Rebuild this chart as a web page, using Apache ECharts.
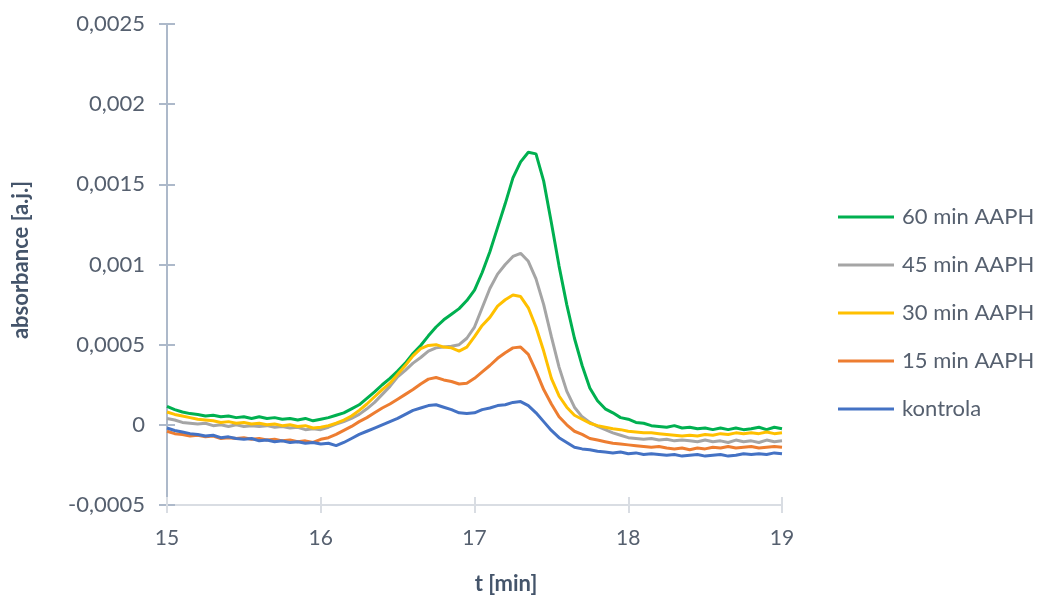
<!DOCTYPE html>
<html>
<head>
<meta charset="utf-8">
<script src="https://cdn.jsdelivr.net/npm/echarts@6/dist/echarts.min.js"></script>
<style>
html,body{margin:0;padding:0;background:#fff;}
#chart{width:1040px;height:597px;}
</style>
</head>
<body>
<div id="chart"></div>
<script>
// time axis [min]
const times = [
15.00,15.05,15.10,15.15,15.20,15.25,15.30,15.35,15.40,15.45,
15.50,15.55,15.60,15.65,15.70,15.75,15.80,15.85,15.90,15.95,
16.00,16.05,16.10,16.15,16.20,16.25,16.30,16.35,16.40,16.45,
16.50,16.55,16.60,16.65,16.70,16.75,16.80,16.85,16.90,16.95,
17.00,17.05,17.10,17.15,17.20,17.25,17.30,17.35,17.40,17.45,
17.50,17.55,17.60,17.65,17.70,17.75,17.80,17.85,17.90,17.95,
18.00,18.05,18.10,18.15,18.20,18.25,18.30,18.35,18.40,18.45,
18.50,18.55,18.60,18.65,18.70,18.75,18.80,18.85,18.90,18.95,
19.00];

const seriesNames = ['60 min AAPH','45 min AAPH','30 min AAPH','15 min AAPH','kontrola'];

const aaph60 = [
1.15e-4,0.95e-4,0.8e-4,0.7e-4,0.65e-4,0.55e-4,0.6e-4,0.5e-4,0.55e-4,0.45e-4,
0.5e-4,0.4e-4,0.5e-4,0.4e-4,0.45e-4,0.35e-4,0.4e-4,0.3e-4,0.4e-4,0.25e-4,
0.35e-4,0.45e-4,0.6e-4,0.75e-4,1.0e-4,1.25e-4,1.65e-4,2.05e-4,2.5e-4,2.9e-4,
3.35e-4,3.85e-4,4.45e-4,4.95e-4,5.55e-4,6.1e-4,6.55e-4,6.9e-4,7.25e-4,7.75e-4,
8.4e-4,9.5e-4,10.8e-4,12.3e-4,13.8e-4,15.4e-4,16.4e-4,17.0e-4,16.9e-4,15.2e-4,
12.6e-4,9.9e-4,7.5e-4,5.4e-4,3.7e-4,2.3e-4,1.5e-4,1.0e-4,0.75e-4,0.45e-4,
0.35e-4,0.15e-4,0.1e-4,-0.05e-4,-0.1e-4,-0.15e-4,-0.05e-4,-0.2e-4,-0.15e-4,-0.25e-4,
-0.2e-4,-0.3e-4,-0.2e-4,-0.3e-4,-0.2e-4,-0.3e-4,-0.25e-4,-0.15e-4,-0.3e-4,-0.15e-4,
-0.25e-4];

const aaph45 = [
0.4e-4,0.3e-4,0.15e-4,0.1e-4,0.05e-4,0.1e-4,-0.05e-4,0.0,-0.1e-4,0.0,
-0.1e-4,-0.05e-4,-0.1e-4,-0.05e-4,-0.15e-4,-0.1e-4,-0.2e-4,-0.15e-4,-0.3e-4,-0.25e-4,
-0.3e-4,-0.15e-4,0.05e-4,0.2e-4,0.4e-4,0.65e-4,1.0e-4,1.4e-4,1.9e-4,2.4e-4,
3.0e-4,3.4e-4,3.85e-4,4.2e-4,4.6e-4,4.8e-4,4.85e-4,4.9e-4,5.0e-4,5.4e-4,
6.1e-4,7.3e-4,8.5e-4,9.4e-4,10.0e-4,10.5e-4,10.7e-4,10.2e-4,9.1e-4,7.5e-4,
5.5e-4,3.6e-4,2.1e-4,1.1e-4,0.5e-4,0.15e-4,-0.1e-4,-0.3e-4,-0.5e-4,-0.65e-4,
-0.8e-4,-0.85e-4,-0.9e-4,-0.85e-4,-0.95e-4,-0.9e-4,-1.0e-4,-0.95e-4,-1.0e-4,-1.05e-4,
-0.95e-4,-1.05e-4,-1.0e-4,-1.1e-4,-0.95e-4,-1.05e-4,-1.0e-4,-1.1e-4,-0.95e-4,-1.05e-4,
-1.0e-4];

const aaph30 = [
0.8e-4,0.65e-4,0.55e-4,0.45e-4,0.35e-4,0.3e-4,0.25e-4,0.15e-4,0.2e-4,0.1e-4,
0.15e-4,0.05e-4,0.1e-4,0.0,0.05e-4,-0.05e-4,0.0,-0.1e-4,-0.05e-4,-0.2e-4,
-0.15e-4,-0.05e-4,0.1e-4,0.3e-4,0.55e-4,0.9e-4,1.3e-4,1.75e-4,2.2e-4,2.6e-4,
3.15e-4,3.7e-4,4.3e-4,4.75e-4,4.95e-4,5.0e-4,4.85e-4,4.8e-4,4.6e-4,4.85e-4,
5.5e-4,6.2e-4,6.7e-4,7.4e-4,7.8e-4,8.1e-4,8.0e-4,7.3e-4,6.1e-4,4.6e-4,
2.9e-4,1.8e-4,1.1e-4,0.6e-4,0.35e-4,0.1e-4,-0.05e-4,-0.15e-4,-0.25e-4,-0.3e-4,
-0.4e-4,-0.45e-4,-0.5e-4,-0.5e-4,-0.55e-4,-0.6e-4,-0.65e-4,-0.7e-4,-0.65e-4,-0.7e-4,
-0.6e-4,-0.65e-4,-0.55e-4,-0.6e-4,-0.5e-4,-0.55e-4,-0.5e-4,-0.55e-4,-0.45e-4,-0.55e-4,
-0.5e-4];

const aaph15 = [
-0.4e-4,-0.55e-4,-0.6e-4,-0.7e-4,-0.65e-4,-0.75e-4,-0.7e-4,-0.85e-4,-0.8e-4,-0.85e-4,
-0.8e-4,-0.9e-4,-0.85e-4,-0.95e-4,-0.9e-4,-1.0e-4,-0.95e-4,-1.05e-4,-1.0e-4,-1.1e-4,
-0.9e-4,-0.8e-4,-0.6e-4,-0.35e-4,-0.1e-4,0.2e-4,0.45e-4,0.75e-4,1.05e-4,1.3e-4,
1.6e-4,1.9e-4,2.2e-4,2.55e-4,2.85e-4,2.95e-4,2.8e-4,2.7e-4,2.55e-4,2.6e-4,
2.9e-4,3.3e-4,3.7e-4,4.15e-4,4.5e-4,4.8e-4,4.85e-4,4.4e-4,3.35e-4,2.2e-4,
1.3e-4,0.5e-4,0.0,-0.4e-4,-0.6e-4,-0.85e-4,-0.95e-4,-1.05e-4,-1.15e-4,-1.2e-4,
-1.25e-4,-1.3e-4,-1.35e-4,-1.4e-4,-1.35e-4,-1.45e-4,-1.5e-4,-1.45e-4,-1.55e-4,-1.45e-4,
-1.5e-4,-1.4e-4,-1.45e-4,-1.35e-4,-1.45e-4,-1.4e-4,-1.35e-4,-1.45e-4,-1.4e-4,-1.35e-4,
-1.4e-4];

const kontrola = [
-0.2e-4,-0.35e-4,-0.45e-4,-0.55e-4,-0.6e-4,-0.7e-4,-0.65e-4,-0.8e-4,-0.75e-4,-0.85e-4,
-0.9e-4,-0.85e-4,-1.0e-4,-0.95e-4,-1.05e-4,-1.0e-4,-1.1e-4,-1.05e-4,-1.15e-4,-1.1e-4,
-1.2e-4,-1.15e-4,-1.3e-4,-1.1e-4,-0.85e-4,-0.6e-4,-0.4e-4,-0.2e-4,0.0,0.2e-4,
0.4e-4,0.65e-4,0.9e-4,1.05e-4,1.2e-4,1.25e-4,1.1e-4,0.95e-4,0.75e-4,0.7e-4,
0.75e-4,0.95e-4,1.05e-4,1.2e-4,1.25e-4,1.4e-4,1.45e-4,1.2e-4,0.75e-4,0.2e-4,
-0.35e-4,-0.8e-4,-1.1e-4,-1.4e-4,-1.5e-4,-1.55e-4,-1.65e-4,-1.7e-4,-1.75e-4,-1.7e-4,
-1.8e-4,-1.75e-4,-1.85e-4,-1.8e-4,-1.85e-4,-1.9e-4,-1.85e-4,-1.95e-4,-1.9e-4,-1.85e-4,
-1.95e-4,-1.9e-4,-1.85e-4,-1.95e-4,-1.9e-4,-1.8e-4,-1.85e-4,-1.8e-4,-1.85e-4,-1.75e-4,
-1.8e-4];

const seriesValues = [aaph60, aaph45, aaph30, aaph15, kontrola];
const seriesColors = ['#00B050','#A5A5A5','#FFC000','#ED7D31','#4472C4'];

const xTicks = [15, 16, 17, 18, 19];
const yTickLabels = {'-0.0005':'-0,0005','0':'0','0.0005':'0,0005','0.001':'0,001','0.0015':'0,0015','0.002':'0,002','0.0025':'0,0025'};

const FONT = 'Lato';
const LABEL_COLOR = '#56606F';
const TITLE_COLOR = '#44546A';

const chart = echarts.init(document.getElementById('chart'), null, {renderer:'canvas'});

const yCommon = {
  type:'value', min:-0.0005, max:0.0025, interval:0.0005, splitLine:{show:false}
};
const xCommon = {
  type:'value', min:15, max:19, interval:1, splitLine:{show:false}
};

chart.setOption({
  animation:false,
  backgroundColor:'#ffffff',
  grid:{left:167, right:258, top:24, bottom:92, containLabel:false},
  xAxis:[
    Object.assign({}, xCommon, {
      position:'bottom',
      axisLine:{show:true, onZero:false, lineStyle:{color:'#D9DDE3', width:2}},
      axisTick:{show:true, length:8, lineStyle:{color:'#D9DDE3', width:2}},
      axisLabel:{show:true, margin:23, color:LABEL_COLOR, fontFamily:FONT, fontSize:21,
        formatter:function(v){ return String(v); }}
    }),
    Object.assign({}, xCommon, {
      position:'bottom', offset:0,
      axisLine:{show:false, onZero:false},
      axisTick:{show:true, inside:true, length:8, lineStyle:{color:'#D9DDE3', width:2}},
      axisLabel:{show:false}
    })
  ],
  yAxis:[
    Object.assign({}, yCommon, {
      position:'left',
      axisLine:{show:true, onZero:false, lineStyle:{color:'#ADB9CA', width:2}},
      axisTick:{show:true, length:8, lineStyle:{color:'#ADB9CA', width:2}},
      axisLabel:{show:true, margin:22, color:LABEL_COLOR, fontFamily:FONT, fontSize:22,
        formatter:function(v){
          const k = String(Number(v.toPrecision(6)));
          return yTickLabels[k] !== undefined ? yTickLabels[k] : k.replace('.', ',');
        }}
    }),
    Object.assign({}, yCommon, {
      position:'left', offset:0,
      axisLine:{show:false, onZero:false},
      axisTick:{show:true, inside:true, length:8, lineStyle:{color:'#ADB9CA', width:2}},
      axisLabel:{show:false}
    })
  ],
  legend:{
    orient:'vertical', left:838, top:206, padding:0,
    icon:'rect', itemWidth:56, itemHeight:3, itemGap:26,
    data:seriesNames,
    textStyle:{color:LABEL_COLOR, fontFamily:FONT, fontSize:22, lineHeight:20, padding:[0,0,0,3]}
  },
  graphic:[
    {type:'text', x:21, y:260, rotation:Math.PI/2,
      style:{text:'absorbance [a.j.]', fill:TITLE_COLOR, font:'bold 22px Lato', align:'center', verticalAlign:'middle'}},
    {type:'text', x:506, y:584,
      style:{text:'t [min]', fill:TITLE_COLOR, font:'bold 22px Lato', align:'center', verticalAlign:'middle'}}
  ],
  series: seriesNames.map(function(name, i){
    return {
      name:name, type:'line', xAxisIndex:0, yAxisIndex:0,
      showSymbol:false, symbol:'none',
      lineStyle:{color:seriesColors[i], width:3},
      itemStyle:{color:seriesColors[i]},
      data: times.map(function(t, j){ return [t, seriesValues[i][j]]; })
    };
  })
});
</script>
</body>
</html>
